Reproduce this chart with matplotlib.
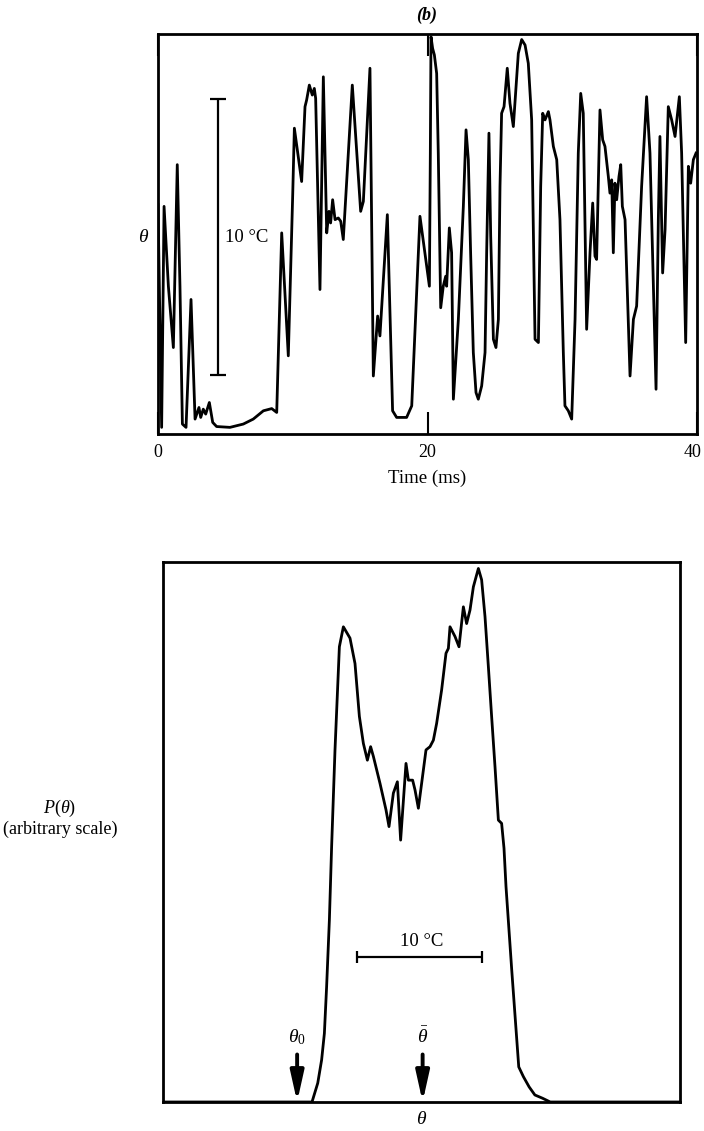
import matplotlib.pyplot as plt
import matplotlib.transforms as mtransforms
import numpy as np

plt.rcParams['font.family'] = 'Liberation Serif'
plt.rcParams['mathtext.fontset'] = 'custom'
plt.rcParams['mathtext.rm'] = 'Liberation Serif'
plt.rcParams['mathtext.it'] = 'Liberation Serif:italic'

# ---- (b) temperature trace: time (ms) vs theta (deg C above the lowest level)
time_ms = [0.0, 0.27, 0.45, 0.77, 1.14, 1.43, 1.63, 1.81, 2.08, 2.45, 2.75, 3.04, 3.17, 3.36,
           3.54, 3.81, 4.06, 4.35, 5.34, 6.33, 7.07, 7.82, 8.44, 8.81, 9.18, 9.67, 10.00,
           10.12, 10.66, 10.91, 11.03, 11.23, 11.45, 11.60, 11.70, 12.02, 12.27, 12.52, 12.69,
           12.81, 12.96, 13.14, 13.38, 13.56, 13.75, 14.42, 15.04, 15.24, 15.73, 15.98, 16.30,
           16.47, 17.02, 17.41, 17.71, 18.45, 18.83, 19.44, 20.14, 20.21, 20.26, 20.38, 20.51,
           20.68, 20.80, 20.98, 21.17, 21.35, 21.42, 21.62, 21.79, 21.92, 22.29, 22.66, 22.86,
           23.03, 23.20, 23.40, 23.60, 23.77, 24.02, 24.27, 24.39, 24.56, 24.69, 24.89, 25.08,
           25.26, 25.38, 25.50, 25.68, 25.92, 26.12, 26.37, 26.74, 26.99, 27.24, 27.48, 27.73,
           27.98, 28.23, 28.40, 28.55, 28.72, 28.97, 29.09, 29.34, 29.59, 29.83, 30.08, 30.20,
           30.45, 30.70, 30.95, 31.19, 31.37, 31.56, 31.81, 32.06, 32.26, 32.43, 32.55, 32.80,
           33.00, 33.17, 33.42, 33.54, 33.67, 33.79, 33.91, 34.04, 34.21, 34.34, 34.46, 34.66,
           35.03, 35.28, 35.52, 35.89, 36.26, 36.51, 36.96, 37.13, 37.25, 37.45, 37.63, 37.87,
           38.12, 38.37, 38.69, 38.86, 39.16, 39.36, 39.53, 39.73, 39.93]
theta_t = [8.30, 0.24, 8.24, 5.35, 3.13, 9.75, 5.35, 0.36, 0.24, 4.87, 0.54, 0.96, 0.60, 0.90,
           0.72, 1.14, 0.42, 0.27, 0.24, 0.36, 0.54, 0.84, 0.92, 0.78, 7.28, 2.83, 8.72,
           11.07, 9.14, 11.85, 12.09, 12.63, 12.27, 12.51, 12.15, 5.23, 12.93, 7.28, 8.06,
           7.64, 8.48, 7.76, 7.82, 7.70, 7.04, 12.63, 8.06, 8.42, 13.24, 2.10, 4.27,
           3.55, 7.94, 0.84, 0.60, 0.60, 1.02, 7.88, 5.35, 10.17, 14.38, 13.96, 13.72,
           13.05, 10.17, 4.57, 5.35, 5.71, 5.35, 7.46, 6.56, 1.26, 4.15, 8.24, 11.01,
           9.93, 6.56, 2.95, 1.50, 1.26, 1.74, 2.95, 6.56, 10.89, 7.16, 3.43, 3.13,
           4.15, 8.96, 11.61, 11.85, 13.24, 11.97, 11.13, 13.78, 14.28, 14.08, 13.42, 11.37,
           3.43, 3.31, 8.96, 11.61, 11.37, 11.67, 11.37, 10.41, 9.93, 7.76, 2.95, 1.02,
           0.84, 0.54, 4.15, 10.17, 12.33, 11.61, 3.79, 6.56, 8.36, 6.44, 6.32, 11.73,
           10.65, 10.41, 9.32, 8.72, 9.20, 6.56, 9.08, 8.48, 9.32, 9.75, 8.24, 7.76,
           2.10, 4.15, 4.63, 8.96, 12.21, 10.17, 1.62, 7.76, 10.77, 5.83, 7.40, 11.85,
           11.37, 10.77, 12.21, 10.17, 3.31, 9.69, 9.08, 9.93, 10.17]
time_ticks = [0, 20, 40]

# ---- probability density P(theta), theta in deg C (arbitrary origin), P arbitrary
theta_p = [0.0, 11.92, 12.38, 12.69, 12.91, 13.09, 13.31, 13.49, 13.76, 14.11, 14.43, 14.96,
           15.36, 15.71, 16.03, 16.35, 16.61, 16.83, 17.36, 17.84, 18.08, 18.43, 18.75,
           19.01, 19.44, 19.63, 19.97, 20.16, 20.43, 20.69, 21.04, 21.36, 21.63, 21.89,
           22.29, 22.64, 22.83, 22.96, 23.36, 23.68, 24.03, 24.29, 24.56, 24.83, 25.23,
           25.49, 25.76, 26.03, 26.29, 26.56, 26.83, 27.09, 27.28, 27.44, 27.90, 28.46,
           28.83, 29.29, 29.75, 30.36, 30.98, 41.36]
p_theta = [0.0, 0.0, 0.035, 0.078, 0.127, 0.214, 0.337, 0.473, 0.652, 0.843, 0.880, 0.859,
           0.812, 0.714, 0.664, 0.633, 0.658, 0.640, 0.590, 0.541, 0.510, 0.572, 0.593,
           0.485, 0.627, 0.596, 0.596, 0.578, 0.544, 0.590, 0.652, 0.658, 0.670, 0.701,
           0.763, 0.831, 0.840, 0.880, 0.862, 0.843, 0.917, 0.886, 0.911, 0.954, 0.988,
           0.967, 0.899, 0.806, 0.714, 0.621, 0.522, 0.516, 0.470, 0.399, 0.244, 0.065,
           0.047, 0.028, 0.013, 0.007, 0.0, 0.0]
theta_0 = 10.73
theta_mean = 20.77

W, H = 704, 1131


def box(l, t, r, b):
    return [l / W, 1 - b / H, (r - l) / W, (b - t) / H]


def px_text(x, y, s, **kw):
    kw.setdefault('ha', 'center')
    kw.setdefault('va', 'center')
    fig.text(x / W, 1 - y / H, s, **kw)


fig = plt.figure(figsize=(W / 100, H / 100), dpi=100)

# top panel: time trace
ax1 = fig.add_axes(box(158, 34, 697, 434))
ax1.plot(time_ms, theta_t, color='black', lw=2.0, solid_joinstyle='round')
ax1.set_xlim(0, 40)
ax1.set_ylim(0, 14.48)
ax1.set_yticks([])
ax1.set_xticks(time_ticks)
ax1.set_xticklabels([str(t) for t in time_ticks], fontsize=13)
ax1.tick_params(axis='x', direction='in', length=16, width=1.5, pad=7, top=True)
# keep the last label inside the picture
last = ax1.get_xticklabels()[-1]
last.set_ha('right')
last.set_transform(last.get_transform() +
                   mtransforms.ScaledTranslation(5 / 100, 0, fig.dpi_scale_trans))
for s in ax1.spines.values():
    s.set_linewidth(2)

# 10 degC scale bar
ax1.errorbar([4.45], [7.13], yerr=[5.0], color='black', lw=1.6, capsize=6, capthick=1.6)
ax1.text(5.0, 7.1, '10 °C', fontsize=13.5, ha='left', va='center')

px_text(427, 15, '(b)', fontsize=13, fontweight='bold', style='italic')
px_text(143, 238, 'θ', fontsize=14, style='italic')
px_text(427, 478, 'Time (ms)', fontsize=13.5)

# bottom panel: pdf
ax2 = fig.add_axes(box(163, 562, 680, 1102))
ax2.plot(theta_p, p_theta, color='black', lw=2.0, solid_joinstyle='round')
ax2.set_xlim(0, 41.36)
ax2.set_ylim(0, 1.0)
ax2.set_xticks([])
ax2.set_yticks([])
for s in ax2.spines.values():
    s.set_linewidth(2)

ax2.errorbar([20.53], [0.269], xerr=[5.0], color='black', lw=1.6, capsize=4, capthick=1.6)
ax2.text(20.7, 0.298, '10 °C', fontsize=13.5, ha='center', va='center')

for xv, lab in [(theta_0, r'$\theta_0$'), (theta_mean, r'$\bar{\theta}$')]:
    ax2.annotate('', xy=(xv, 0.0), xytext=(xv, 0.088),
                 arrowprops=dict(arrowstyle='-|>,head_length=0.9,head_width=0.2',
                                 color='black', lw=2.8, mutation_scale=20,
                                 shrinkA=0, shrinkB=0))
    ax2.text(xv, 0.12, lab, fontsize=14, ha='center', va='center')

px_text(421, 1120, 'θ', fontsize=14, style='italic')
px_text(60, 808, r'$P(\theta)$', fontsize=13)
px_text(60, 829, '(arbitrary scale)', fontsize=13)

fig.savefig('out.png', dpi=100)
